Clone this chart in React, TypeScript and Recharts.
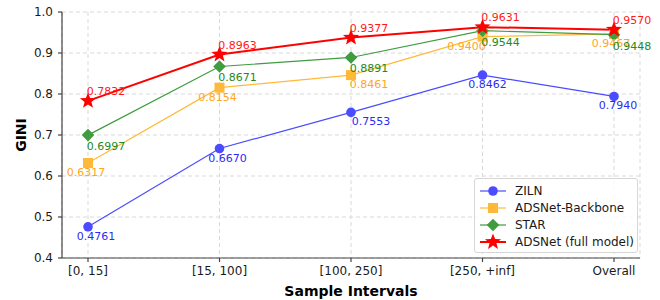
import {
  LineChart,
  Line,
  XAxis,
  YAxis,
  CartesianGrid,
  Legend,
  LabelList,
} from 'recharts'

const categories = ['[0, 15]', '[15, 100]', '[100, 250]', '[250, +inf]', 'Overall']
const ziln = [0.4761, 0.667, 0.7553, 0.8462, 0.794]
const backbone = [0.6317, 0.8154, 0.8461, 0.94, 0.9467]
const star = [0.6997, 0.8671, 0.8891, 0.9544, 0.9448]
const adsnet = [0.7832, 0.8963, 0.9377, 0.9631, 0.957]
const yTicks = [0.4, 0.5, 0.6, 0.7, 0.8, 0.9, 1.0]

const data = categories.map((name, i) => ({
  name,
  ziln: ziln[i],
  backbone: backbone[i],
  star: star[i],
  adsnet: adsnet[i],
}))

const FONT = 'DejaVu Sans, Verdana, sans-serif'

const series = [
  { key: 'ziln', name: 'ZILN', color: '#4b4bff', text: '#2b2bf5', width: 1.2, shape: 'circle' },
  { key: 'backbone', name: 'ADSNet-Backbone', color: '#ffb938', text: '#ffa620', width: 1.2, shape: 'square' },
  { key: 'star', name: 'STAR', color: '#3f9c3f', text: '#228a22', width: 1.2, shape: 'diamond' },
  { key: 'adsnet', name: 'ADSNet (full model)', color: '#ff0000', text: '#ff1a1a', width: 2, shape: 'star' },
]

// label placement per series (matplotlib annotations were not uniform)
const labelDx: Record<string, number[]> = {
  ziln: [8, 8, 20, 5, 4],
  backbone: [-2, -2, 18, -16, -3],
  star: [18, 18, 18, 18, 18],
  adsnet: [18, 18, 18, 18, 18],
}
const labelDy: Record<string, number> = { ziln: 13, backbone: 13, star: 15, adsnet: -6 }

function starPath(cx: number, cy: number, ro: number, ri: number) {
  let d = ''
  for (let i = 0; i < 10; i++) {
    const r = i % 2 === 0 ? ro : ri
    const a = -Math.PI / 2 + (i * Math.PI) / 5
    d += (i === 0 ? 'M' : 'L') + (cx + r * Math.cos(a)).toFixed(2) + ',' + (cy + r * Math.sin(a)).toFixed(2)
  }
  return d + 'Z'
}

function Marker({ shape, cx, cy, color, scale = 1 }: { shape: string; cx: number; cy: number; color: string; scale?: number }) {
  if (shape === 'circle') return <circle cx={cx} cy={cy} r={4.8 * scale} fill={color} />
  if (shape === 'square') {
    const s = 5 * scale
    return <rect x={cx - s} y={cy - s} width={s * 2} height={s * 2} fill={color} />
  }
  if (shape === 'diamond') {
    const s = 6.3 * scale
    return <path d={`M${cx},${cy - s}L${cx + s},${cy}L${cx},${cy + s}L${cx - s},${cy}Z`} fill={color} />
  }
  return <path d={starPath(cx, cy, 8.5 * scale, 3.6 * scale)} fill={color} />
}

const LegendBox = () => (
  <div
    style={{
      width: 158,
      border: '1px solid #d6d6d6',
      borderRadius: 3,
      background: 'rgba(255,255,255,0.85)',
      padding: '3px 0 2px 4px',
      fontFamily: FONT,
      fontSize: 12,
      color: '#1a1a1a',
    }}
  >
    {series.map(s => (
      <div key={s.key} style={{ display: 'flex', alignItems: 'center', height: 17 }}>
        <svg width={28} height={16} style={{ marginRight: 8 }}>
          <line x1={1} y1={8} x2={27} y2={8} stroke={s.color} strokeWidth={s.width} />
          <Marker shape={s.shape} cx={14} cy={8} color={s.color} />
        </svg>
        <span>{s.name}</span>
      </div>
    ))}
  </div>
)

const GiniLabel = ({ viewBox }: { viewBox?: { x: number; y: number; width: number; height: number } }) => {
  if (!viewBox) return null
  const cy = viewBox.y + viewBox.height / 2
  return (
    <text
      x={21}
      y={cy}
      transform={`rotate(-90, 21, ${cy})`}
      textAnchor="middle"
      dominantBaseline="central"
      fontFamily={FONT}
      fontSize={14}
      fontWeight="bold"
      fill="#000"
    >
      GINI
    </text>
  )
}

export default function App() {
  const tick = { fill: '#1a1a1a', fontSize: 12, fontFamily: FONT }
  return (
    <div style={{ position: 'absolute', left: 0, top: 0, background: '#fff' }}>
      <LineChart width={660} height={300} data={data} margin={{ top: 12, right: 20, bottom: 0, left: 10 }}>
        <CartesianGrid stroke="#d9d9d9" strokeDasharray="4 3" />
        <XAxis
          dataKey="name"
          padding={{ left: 26, right: 26 }}
          height={42}
          tick={tick}
          tickSize={4}
          tickMargin={4}
          stroke="#444"
          strokeWidth={1.2}
          interval={0}
          label={{
            value: 'Sample Intervals',
            position: 'insideBottom',
            offset: 4,
            fill: '#000',
            fontSize: 14,
            fontWeight: 'bold',
            fontFamily: FONT,
          }}
        />
        <XAxis
          xAxisId="top"
          orientation="top"
          dataKey="name"
          height={0}
          tick={false}
          tickLine={false}
          stroke="#444"
          strokeWidth={1.2}
        />
        <YAxis
          domain={[0.4, 1.0]}
          ticks={yTicks}
          width={52}
          tick={tick}
          tickSize={4}
          tickMargin={5}
          tickFormatter={(v: number) => v.toFixed(1)}
          stroke="#444"
          strokeWidth={1.2}
          label={<GiniLabel />}
        />
        <YAxis
          yAxisId="right"
          orientation="right"
          domain={[0.4, 1.0]}
          width={0}
          tick={false}
          tickLine={false}
          stroke="#444"
          strokeWidth={1.2}
        />
        <Legend
          layout="vertical"
          align="center"
          verticalAlign="middle"
          content={<LegendBox />}
          wrapperStyle={{ position: 'absolute', left: 474, top: 178, width: 'auto' }}
        />
        {series.map(s => (
          <Line
            key={s.key}
            dataKey={s.key}
            name={s.name}
            stroke={s.color}
            strokeWidth={s.width}
            isAnimationActive={false}
            activeDot={false}
            dot={(p: { cx: number; cy: number; index: number }) => (
              <Marker key={`${s.key}-${p.index}`} shape={s.shape} cx={p.cx} cy={p.cy} color={s.color} />
            )}
          >
            <LabelList
              dataKey={s.key}
              content={(p: { x?: number; y?: number; value?: number; index?: number }) => (
                <text
                  x={(p.x ?? 0) + labelDx[s.key][p.index ?? 0]}
                  y={(p.y ?? 0) + labelDy[s.key]}
                  textAnchor="middle"
                  fontFamily={FONT}
                  fontSize={11}
                  fill={s.text}
                >
                  {Number(p.value).toFixed(4)}
                </text>
              )}
            />
          </Line>
        ))}
      </LineChart>
    </div>
  )
}
